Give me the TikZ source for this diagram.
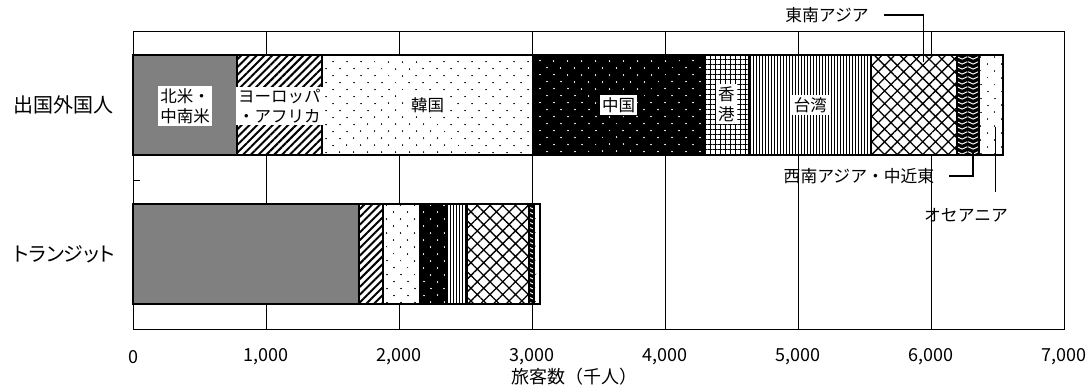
\documentclass[tikz,border=0pt]{standalone}
\usepackage{fontspec}
\setmainfont{Noto Sans CJK JP}
\newfontfamily\jpp{Noto Sans CJK JP}[RawFeature=+palt]
\usetikzlibrary{patterns,patterns.meta}
\tikzdeclarepattern{
  name=chevron,
  type=uncolored,
  bounding box={(0pt,0pt) and (11pt,5pt)},
  tile size={(11pt,5pt)},
  code={\draw[line width=1.1pt] (0pt,3.9pt) -- (5.5pt,1.1pt) -- (11pt,3.9pt);}
}
\begin{document}
\begin{tikzpicture}[x=1pt,y=-1pt,
  gridl/.style={line width=0.8pt},
  segb/.style={draw=black,line width=2pt},
  lbl/.style={fill=white,inner sep=2pt,font=\fontsize{16.5}{20}\selectfont,align=center},
  call/.style={inner sep=1pt,font=\fontsize{16.8}{20}\selectfont},
  cat/.style={font=\jpp\fontsize{20}{24}\selectfont},
  num/.style={font=\fontsize{18}{20}\selectfont},
  ttl/.style={font=\fontsize{18}{22}\selectfont},
  leader/.style={line width=1.2pt},
  pNA/.style={fill=black!50},
  pEU/.style={preaction={fill=white},pattern={Lines[angle=45,distance=5.5pt,line width=2pt]}},
  pKR/.style={preaction={fill=white},pattern={Dots[angle=45,distance=10.5pt,radius=0.9pt]}},
  pCN/.style={preaction={fill=black},pattern={Dots[angle=45,distance=10.5pt,radius=0.9pt]},pattern color=white},
  pHK/.style={preaction={fill=white},pattern={Hatch[angle=0,distance=5pt,line width=1pt]}},
  pTW/.style={preaction={fill=white},pattern={Lines[angle=90,distance=3pt,line width=1pt]}},
  pSEA/.style={preaction={fill=white},pattern={Hatch[angle=45,distance=9pt,line width=1.3pt]}},
  pSW/.style={preaction={fill=black},pattern=chevron,pattern color=white},
  pOC/.style={preaction={fill=white},pattern={Dots[angle=45,distance=10.5pt,radius=0.8pt]}}
]
\useasboundingbox (0,0) rectangle (1090,390);
\fill[white] (0,0) rectangle (1090,390);
% grid and frame
\foreach \i in {1,...,6} \draw[gridl] ({133.3+133*\i},31) -- ({133.3+133*\i},329);
\draw[gridl] (133.3,31) rectangle (1064.3,329);
\draw[gridl] (133.3,180) -- (140,180);
% bars
\begin{scope}[xshift=133.3pt,x=133pt]
  % top bar
  \path[pNA]  (0,55) rectangle (0.778,155);
  \path[pEU]  (0.778,55) rectangle (1.418,155);
  \path[pKR]  (1.418,55) rectangle (3.008,155);
  \path[pCN]  (3.008,55) rectangle (4.29,155);
  \path[pHK]  (4.29,55) rectangle (4.63,155);
  \path[pTW]  (4.63,55) rectangle (5.55,155);
  \path[pSEA] (5.55,55) rectangle (6.19,155);
  \path[pSW]  (6.19,55) rectangle (6.36,155);
  \path[pOC]  (6.36,55) rectangle (6.54,155);
  \foreach \a/\b in {0/0.778,0.778/1.418,1.418/3.008,3.008/4.29,4.29/4.63,4.63/5.55,5.55/6.19,6.19/6.36,6.36/6.54}
    \draw[segb] (\a,55) rectangle (\b,155);
  % bottom bar
  \path[pNA]  (0,204) rectangle (1.697,304);
  \path[pEU]  (1.697,204) rectangle (1.875,304);
  \path[pKR]  (1.875,204) rectangle (2.156,304);
  \path[pCN]  (2.156,204) rectangle (2.352,304);
  \path[pTW]  (2.352,204) rectangle (2.51,304);
  \path[pSEA] (2.51,204) rectangle (2.975,304);
  \path[pSW]  (2.975,204) rectangle (3.013,304);
  \path[pOC]  (3.013,204) rectangle (3.058,304);
  \foreach \a/\b in {0/1.697,1.697/1.875,1.875/2.156,2.156/2.352,2.352/2.51,2.51/2.975,2.975/3.013,3.013/3.058}
    \draw[segb] (\a,204) rectangle (\b,304);
  % segment labels
  \node[lbl] (lNA) at (0.389,106) {北米・\\中南米};
  \node[lbl] (lEU) at (1.098,106) {ヨーロッパ\\・アフリカ};
  \node[lbl] (lKR) at (2.213,105) {韓国};
  \node[lbl] (lCN) at (3.649,105) {中国};
  \node[lbl] (lHK) at (4.46,104) {香\\港};
  \node[lbl] (lTW) at (5.09,105) {台湾};
\end{scope}
% category labels
\node[cat] (cOut) at (63,105) {出国外国人};
\node[cat] (cTr) at (64,254) {トランジット};
% callouts
\node[call] (lSEA) at (827,15) {東南アジア};
\coordinate (eSEA) at (923.5,62);
\draw[leader] ([xshift=14pt]lSEA.east) -| (eSEA);
\node[call] (lSW) at (859,176) {西南アジア・中近東};
\coordinate (eSW) at (973,150);
\draw[leader] ([xshift=14pt]lSW.east) -| (eSW);
\node[call] (lOC) at (966,215) {オセアニア};
\coordinate (tOC) at (995.5,127);
\coordinate (bOC) at (995.5,192);
\draw[leader] (tOC) -- (bOC);
% axis numbers
\foreach \v/\t in {0/0,1/{1,000},2/{2,000},3/{3,000},4/{4,000},5/{5,000},6/{6,000},7/{7,000}}
  \node[num] (tick\v) at ({133.3+133*\v},357) {\t};
\node[ttl] (xtitle) at (574,377) {旅客数（千人）};
\end{tikzpicture}
\end{document}
